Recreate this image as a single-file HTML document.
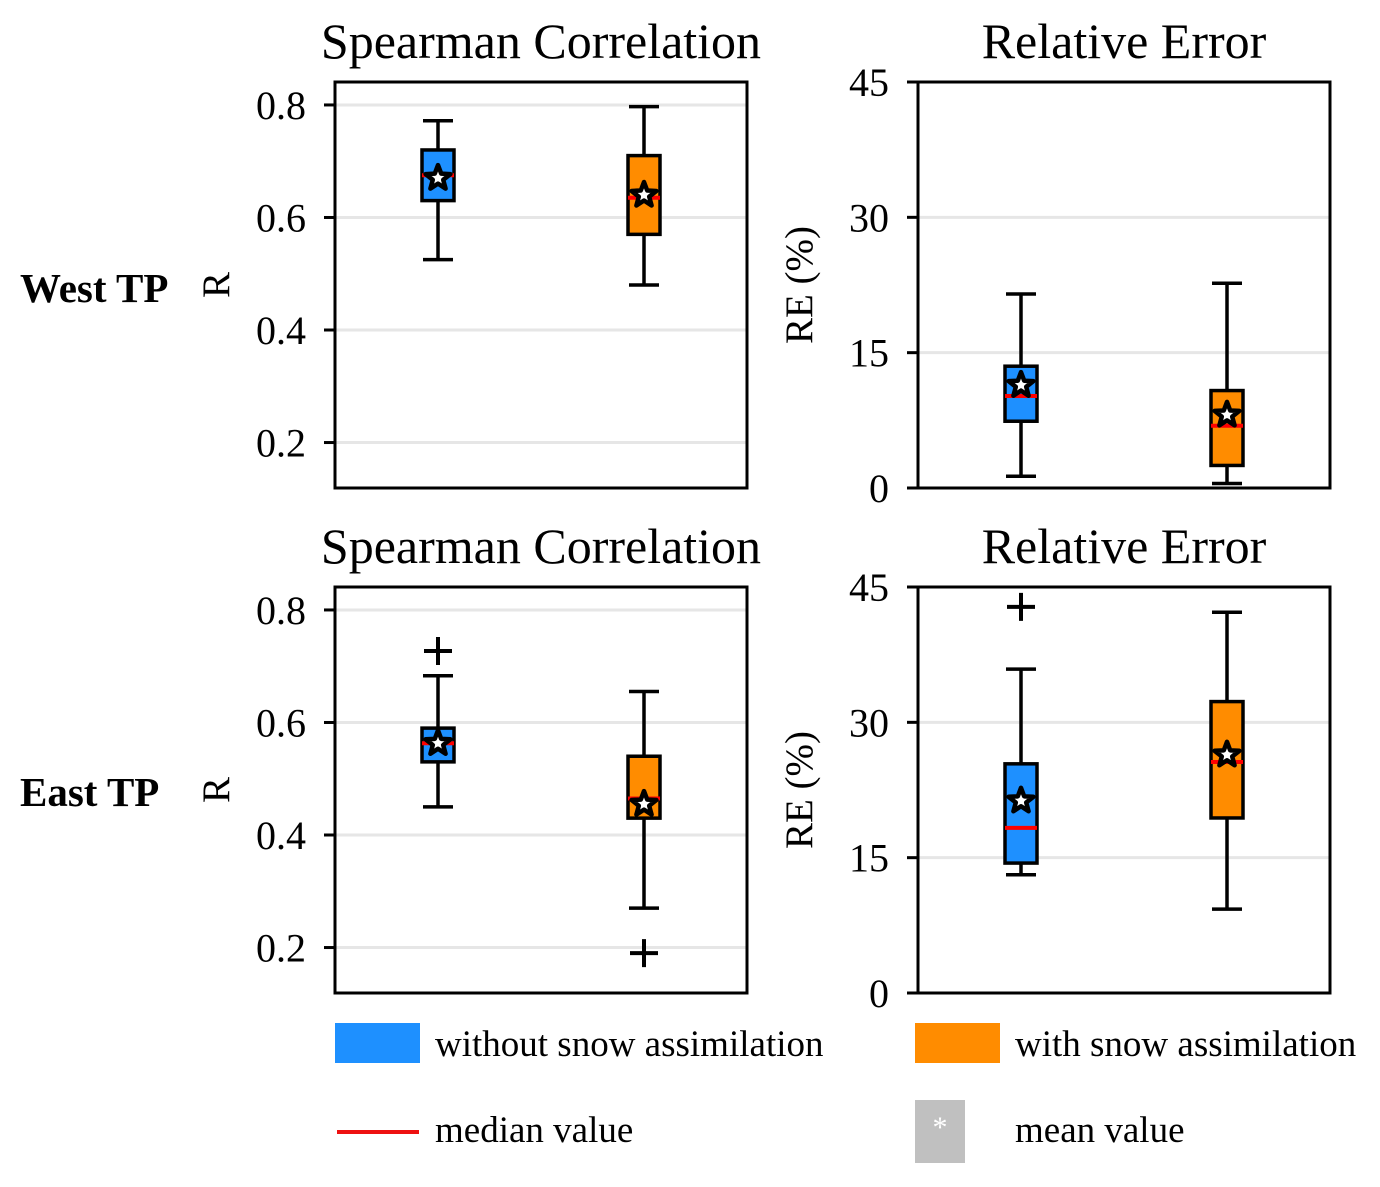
<!DOCTYPE html>
<html><head><meta charset="utf-8"><style>
html,body{margin:0;padding:0;background:#fff;}
svg{display:block;font-family:"Liberation Serif",serif;}
</style></head><body>
<svg id="chart" width="1380" height="1187" viewBox="0 0 1380 1187" xmlns="http://www.w3.org/2000/svg"></svg>
<script>
const panelNames = ["west-spearman","west-relative-error","east-spearman","east-relative-error"];
const panelTitles = ["Spearman Correlation","Relative Error","Spearman Correlation","Relative Error"];
const seriesNames = ["without-snow-assimilation","with-snow-assimilation"];
// per panel: [blue, orange] each [whiskerLow, q1, median, q3, whiskerHigh, mean]
const westR = [[0.525,0.63,0.675,0.72,0.772,0.67],[0.48,0.57,0.635,0.71,0.797,0.64]];
const westRE = [[1.3,7.4,10.2,13.5,21.5,11.4],[0.5,2.5,6.9,10.8,22.7,8.1]];
const eastR = [[0.45,0.53,0.563,0.59,0.683,0.563],[0.27,0.43,0.465,0.54,0.655,0.455]];
const eastRE = [[13.1,14.4,18.3,25.4,35.9,21.3],[9.3,19.4,25.6,32.3,42.2,26.4]];
const outliersEastR = [[0.727],[0.19]];
const outliersEastRE = [[42.8],[]];
const rTicks = [0.2,0.4,0.6,0.8];
const rTickLabels = ["0.2","0.4","0.6","0.8"];
const reTicks = [0,15,30,45];
const reTickLabels = ["0","15","30","45"];

const NS="http://www.w3.org/2000/svg";
const svg=document.getElementById('chart');
function el(tag,attrs,parent,text){const e=document.createElementNS(NS,tag);for(const k in attrs)e.setAttribute(k,attrs[k]);if(text!==undefined)e.textContent=text;(parent||svg).appendChild(e);return e;}
const colors=["#1e90ff","#ff8c00"];
function starPts(cx,cy,R,r){let p=[];for(let i=0;i<10;i++){const a=-Math.PI/2+i*Math.PI/5;const rr=i%2?r:R;p.push((cx+rr*Math.cos(a)).toFixed(1)+","+(cy+rr*Math.sin(a)).toFixed(1));}return p.join(" ");}

const panels=[
 {x0:335,x1:747,y0:82,y1:488,vmin:0.1192,vmax:0.8408,data:westR,out:[[],[]],ticks:rTicks,labels:rTickLabels,ylab:"R"},
 {x0:918,x1:1330,y0:82,y1:488,vmin:0,vmax:45,data:westRE,out:[[],[]],ticks:reTicks,labels:reTickLabels,ylab:"RE (%)"},
 {x0:335,x1:747,y0:587,y1:993,vmin:0.1192,vmax:0.8408,data:eastR,out:outliersEastR,ticks:rTicks,labels:rTickLabels,ylab:"R"},
 {x0:918,x1:1330,y0:587,y1:993,vmin:0,vmax:45,data:eastRE,out:outliersEastRE,ticks:reTicks,labels:reTickLabels,ylab:"RE (%)"}
];
panels.forEach((p,pi)=>{
 const g=el('g',{});
 
 
 const y=v=>p.y1-(v-p.vmin)/(p.vmax-p.vmin)*(p.y1-p.y0);
 const cxs=[p.x0+103,p.x0+309];
 const t=el('text',{x:(p.x0+p.x1)/2,y:p.y0-24,'text-anchor':'middle','font-size':50},g,panelTitles[pi]);
 
 p.ticks.forEach((tv,i)=>{
  const yy=y(tv);
  if(tv>p.vmin+1e-6 && tv<p.vmax-1e-6){const gl=el('line',{x1:p.x0,x2:p.x1,y1:yy,y2:yy,stroke:'#e6e6e6','stroke-width':3},g);}
  el('line',{x1:p.x0-11,x2:p.x0,y1:yy,y2:yy,stroke:'#000','stroke-width':3},g);
  const tl=el('text',{x:p.x0-29,y:yy+14,'text-anchor':'end','font-size':40},g,p.labels[i]);
  
 });
 const yl=el('text',{transform:`translate(${p.x0-106},${(p.y0+p.y1)/2}) rotate(-90)`,'text-anchor':'middle','font-size':39},g,p.ylab);
 
 p.data.forEach((d,si)=>{
  const b=el('g',{},g);
  
  
  const cx=cxs[si];
  el('line',{x1:cx,x2:cx,y1:y(d[0]),y2:y(d[1]),stroke:'#000','stroke-width':3.5},b);
  el('line',{x1:cx,x2:cx,y1:y(d[3]),y2:y(d[4]),stroke:'#000','stroke-width':3.5},b);
  el('line',{x1:cx-15,x2:cx+15,y1:y(d[0]),y2:y(d[0]),stroke:'#000','stroke-width':3.5},b);
  el('line',{x1:cx-15,x2:cx+15,y1:y(d[4]),y2:y(d[4]),stroke:'#000','stroke-width':3.5},b);
  el('rect',{x:cx-16,y:y(d[3]),width:32,height:y(d[1])-y(d[3]),fill:colors[si],stroke:'#000','stroke-width':3.5},b);
  el('line',{x1:cx-16,x2:cx+16,y1:y(d[2]),y2:y(d[2]),stroke:'#ff0000','stroke-width':4},b);
  el('polygon',{points:starPts(cx,y(d[5]),13,5.5),fill:'#fff',stroke:'#000','stroke-width':4.5,'stroke-linejoin':'round'},b);
  p.out[si].forEach(o=>{
   const oy=y(o);
   el('path',{d:`M${cx-14},${oy}H${cx+14}M${cx},${oy-14}V${oy+14}`,stroke:'#000','stroke-width':4},b);
  });
 });
 const fr=el('rect',{x:p.x0,y:p.y0,width:p.x1-p.x0,height:p.y1-p.y0,fill:'none',stroke:'#000','stroke-width':3},g);
 
});
[["West TP",302],["East TP",806]].forEach(r=>{
 const t=el('text',{x:20,y:r[1],'font-size':41,'font-weight':'bold'},svg,r[0]);
 
});
// legend
const lg=el('g',{});

el('rect',{x:335,y:1023,width:85,height:40,fill:'#1e90ff'},lg);
el('text',{x:435,y:1056,'font-size':37},lg,"without snow assimilation");
el('rect',{x:915,y:1023,width:85,height:40,fill:'#ff8c00'},lg);
el('text',{x:1015,y:1056,'font-size':37},lg,"with snow assimilation");
el('line',{x1:337,x2:419,y1:1132,y2:1132,stroke:'#ee1111','stroke-width':4},lg);
el('text',{x:435,y:1142,'font-size':37},lg,"median value");
el('rect',{x:915,y:1100,width:50,height:63,fill:'#c0c0c0'},lg);
el('text',{x:940,y:1137,'font-size':30,'text-anchor':'middle',fill:'#fff'},lg,"*");
el('text',{x:1015,y:1142,'font-size':37},lg,"mean value");
</script>
</body></html>
